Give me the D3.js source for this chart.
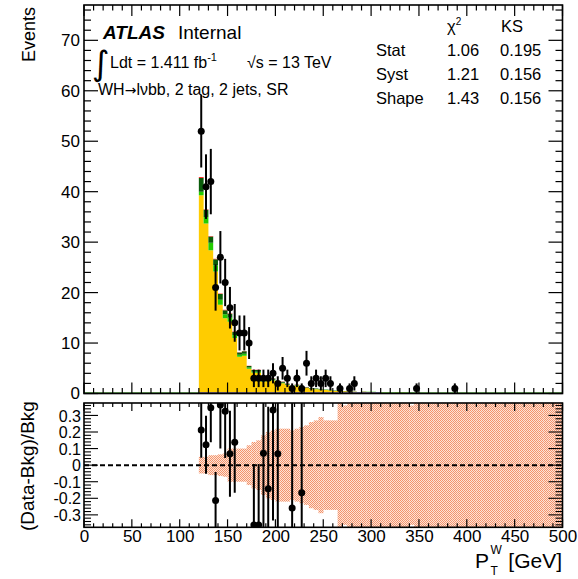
<!DOCTYPE html>
<html><head><meta charset="utf-8">
<script src="https://cdn.jsdelivr.net/npm/d3@7"></script>
<style>
body{margin:0;background:#fff}
text{font-family:"Liberation Sans",Arial,Helvetica,sans-serif;fill:#000}
</style>
</head><body>
<svg id="c" width="578" height="579"></svg>
<script>
// ---------------- data ----------------
const binWidth = 5;
const binLow = d3.range(120, 500, binWidth); // 76 bins, 120..500 GeV

// background components (events per bin)
const ttbar = [39.3,33.7,28.4,24.2,17.6,14.9,14.2,11.0,7.3,7.5,4.9,4.1,4.1,2.4,3.0,2.6,1.57,2.05,1.7,1.15,1.55,1.0,1.1,0.95,
  0.85,0.78,0.7,0.65,0.52,0.48,0.43,0.39,0.34,0.25,0.33,0.29,0.29,0.25,0.16,0.16,0.12,0.2,0.2,0.16,0.12,0.09,
  0.08,0.08,0.07,0.07,0.07,0.06,0.06,0.06,0.06,0.05,0.05,0.05,0.05,0.05,0.04,0.04,0.04,0.04,0.04,0.04,0.03,0.03,0.03,0.03,0.03,0.03,0.03,0.03,0.03,0.03];
const wcc = [0.7,1.3,1.5,1.2,1.0,0.8,0.8,0.6,0.4,0.4,0.25,0.2,0.2,0.15,0.2,0.15,0.1,0.1,0.1,0.05,0.1,0.05,0.05,0.05,
  0.05,0.04,0.04,0.04,0.03,0.03,0.03,0.03,0.03,0.03,0.04,0.04,0.04,0.03,0.02,0.02,0.02,0.03,0.03,0.02,0.02,0.02,
  0.02,0.02,0.02,0.02,0.02,0.02,0.02,0.02,0.01,0.01,0.01,0.01,0.01,0.01,0.01,0.01,0.01,0.01,0.01,0.01,0.01,0.01,0.01,0.01,0.01,0.01,0.01,0.01,0.01,0.01];
const wbb = [2.7,1.4,1.2,1.2,1.1,0.8,0.8,0.6,0.45,0.45,0.3,0.35,0.35,0.2,0.25,0.2,0.15,0.2,0.15,0.1,0.1,0.1,0.1,0.08,
  0.08,0.06,0.05,0.05,0.04,0.03,0.03,0.02,0.02,0.02,0.03,0.02,0.02,0.02,0.02,0.02,0.01,0.02,0.02,0.02,0.01,0.01,
  0.01,0.01,0.01,0.01,0.01,0.01,0.01,0.01,0.01,0.01,0.01,0.01,0.01,0.01,0.01,0.01,0.01,0.01,0.01,0.01,0.01,0.01,0.01,0.01,0.01,0.01,0.01,0.01,0.01,0.01];
const signal = [0.2,0.1,0.1,0.1,0.1,0.1,0.1,0.1,0.05,0.05,0.05,0.05,0.05,0.05,0.05,0.05,0.05,0.05,0.05,0.05,0.05,0.05,0.05,0.02,
  0.02,0.02,0.01,0.01,0.01,0.01,0.01,0.01,0.01,0,0,0,0,0,0,0,0,0,0,0,0,0,
  0,0,0,0,0,0,0,0,0,0,0,0,0,0,0,0,0,0,0,0,0,0,0,0,0,0,0,0,0,0];

// relative systematic uncertainty (half width of the ratio band), per bin
const bandErr = [0.05,0.05,0.06,0.06,0.065,0.07,0.10,0.10,0.10,0.10,0.12,0.14,0.15,0.18,0.20,0.21,0.22,0.22,0.22,0.21,0.22,0.23,0.24,0.26,
  0.27,0.29,0.27,0.27,0.27,0.6,0.36,0.6,0.6,0.6,0.6,0.6,0.6,0.6,0.6,0.6,0.6,0.6,0.6,0.6,0.36,0.6,
  0.6,0.6,0.6,0.6,0.6,0.6,0.6,0.6,0.6,0.6,0.6,0.6,0.6,0.6,0.6,0.6,0.6,0.6,0.6,0.6,0.6,0.6,0.6,0.6,0.6,0.6,0.6,0.6,0.6,0.6];

// data: bin centres and observed counts
const dataX = [122.5,127.5,132.5,137.5,142.5,147.5,152.5,157.5,162.5,167.5,172.5,177.5,182.5,187.5,192.5,197.5,202.5,207.5,212.5,217.5,222.5,227.5,232.5,237.5,242.5,247.5,252.5,257.5,267.5,277.5,282.5,347.5,387.5];
const dataY = [52,41,42,21,27,22,17,14,12,12,10,3,3,3,3,4,2,5,3,1,3,1,6,2,3,2,3,2,1,1,2,1,1];

// axis ticks
const xTicks = [0,50,100,150,200,250,300,350,400,450,500];
const yMainTicks = [0,10,20,30,40,50,60,70];
const yRatioTicks = [-0.3,-0.2,-0.1,0,0.1,0.2,0.3];
const baselineSegs = [[0,120],[120,310],[310,500]];

// stat table
const tableRows = ["Stat","Syst","Shape"];
const chi2Vals = ["1.06","1.21","1.43"];
const ksVals = ["0.195","0.156","0.156"];

// ---------------- drawing ----------------
const svg = d3.select("#c");
const L = 84, R = 562.5, mainTop = 5, mainBot = 393.5, rTop = 403, rBot = 527.3;
const x = d3.scaleLinear().domain([0,500]).range([L,R]);
const y = d3.scaleLinear().domain([0,77]).range([mainBot,mainTop]);
const yr = d3.scaleLinear().domain([-0.375,0.375]).range([rBot,rTop]);

const defs = svg.append("defs");
defs.append("clipPath").attr("id","mainPad").append("rect").attr("x",0).attr("y",0).attr("width",578).attr("height",399);
defs.append("clipPath").attr("id","ratioPad").append("rect").attr("x",0).attr("y",399).attr("width",578).attr("height",180);
defs.append("clipPath").attr("id","ratioFrame").append("rect").attr("x",L).attr("y",rTop).attr("width",R-L).attr("height",rBot-rTop);
const pat = defs.append("pattern").attr("id","hatch").attr("patternUnits","userSpaceOnUse").attr("width",2).attr("height",2);
pat.append("rect").attr("width",2).attr("height",2).attr("fill","#fde3d6");
pat.append("rect").attr("width",1).attr("height",1).attr("fill","#f3936c");
pat.append("rect").attr("x",1).attr("y",1).attr("width",1).attr("height",1).attr("fill","#f3936c");

const main = svg.append("g").attr("clip-path","url(#mainPad)");

// stacked background
const rows = binLow.map((lo,i)=>({lo, ttbar:ttbar[i], wcc:wcc[i], wbb:wbb[i], signal:signal[i]}));
const keys = ["ttbar","wcc","wbb","signal"];
const colors = {ttbar:"#ffcc00", wcc:"#22cc00", wbb:"#0a5c0a", signal:"#ff3333"};
const stack = d3.stack().keys(keys)(rows);
const area = d3.area().x(d=>x(d.x)).y0(d=>y(d.y0)).y1(d=>y(d.y1));
stack.forEach(layer=>{
  const pts = [];
  layer.forEach(s=>{ const lo=s.data.lo; pts.push({x:lo,y0:s[0],y1:s[1]}); pts.push({x:lo+binWidth,y0:s[0],y1:s[1]}); });
  main.append("path").attr("d",area(pts)).attr("fill",colors[layer.key]);
});

// coloured zero-content lines on the baseline
const segCol = ["#3f8f2f","#3a3aa0","#3f8f2f"];
baselineSegs.forEach((s,i)=>{
  main.append("line").attr("x1",x(s[0])).attr("x2",x(s[1])).attr("y1",mainBot-0.5).attr("y2",mainBot-0.5)
    .attr("stroke",segCol[i]).attr("stroke-width",1.5);
});

// data points
dataX.forEach((cx,i)=>{
  const n = dataY[i], e = Math.sqrt(n);
  main.append("line").attr("x1",x(cx)).attr("x2",x(cx)).attr("y1",y(n+e)).attr("y2",y(Math.max(0,n-e)))
    .attr("stroke","#000").attr("stroke-width",2);
  main.append("circle").attr("cx",x(cx)).attr("cy",y(n)).attr("r",3.5).attr("fill","#000");
});

// main frame & axes
function ticksH(g, scale, yPos, dir, majors, minorStep, majLen, minLen){
  const vals = d3.range(0,500+0.001,minorStep);
  vals.forEach(v=>{
    const isMaj = majors.includes(v);
    const len = isMaj?majLen:minLen;
    g.append("line").attr("x1",scale(v)).attr("x2",scale(v)).attr("y1",yPos).attr("y2",yPos+dir*len).attr("stroke","#000").attr("stroke-width",1.2);
  });
}
main.append("rect").attr("x",L).attr("y",mainTop).attr("width",R-L).attr("height",mainBot-mainTop)
  .attr("fill","none").attr("stroke","#000").attr("stroke-width",1.6);
ticksH(main, x, mainBot, -1, xTicks, 10, 11, 5.5);
ticksH(main, x, mainTop, 1, xTicks, 10, 11, 5.5);
const yMinor = d3.range(0,77,2);
yMinor.forEach(v=>{
  const isMaj = v%10===0, len = isMaj?14:7;
  main.append("line").attr("x1",L).attr("x2",L+len).attr("y1",y(v)).attr("y2",y(v)).attr("stroke","#000").attr("stroke-width",1.2);
  main.append("line").attr("x1",R).attr("x2",R-len).attr("y1",y(v)).attr("y2",y(v)).attr("stroke","#000").attr("stroke-width",1.2);
});
const yAx = main.append("g").attr("transform",`translate(${L},0)`)
  .call(d3.axisLeft(y).tickValues(yMainTicks).tickSize(0).tickPadding(4));
yAx.select(".domain").remove();
yAx.selectAll("text").attr("font-size",17).attr("font-family",null);

// ---------------- ratio panel ----------------
const ratio = svg.append("g");
const band = ratio.append("g").attr("clip-path","url(#ratioFrame)");
binLow.forEach((lo,i)=>{
  band.append("rect").attr("x",x(lo)).attr("width",x(lo+binWidth)-x(lo)+0.3)
    .attr("y",yr(bandErr[i])).attr("height",yr(-bandErr[i])-yr(bandErr[i]))
    .attr("fill","url(#hatch)");
});
band.append("line").attr("x1",L).attr("x2",R).attr("y1",yr(0)).attr("y2",yr(0))
  .attr("stroke","#000").attr("stroke-width",2).attr("stroke-dasharray","5,3");
// ratio points: (data - bkg)/bkg, drawn only inside the range
dataX.forEach((cx,i)=>{
  const bi = Math.floor((cx-120)/binWidth);
  const bkg = ttbar[bi]+wcc[bi]+wbb[bi]+signal[bi];
  const r = (dataY[i]-bkg)/bkg, e = Math.sqrt(dataY[i])/bkg;
  if (r>0.375 || r<-0.375) return;
  band.append("line").attr("x1",x(cx)).attr("x2",x(cx)).attr("y1",yr(r+e)).attr("y2",yr(r-e)).attr("stroke","#000").attr("stroke-width",2);
  band.append("circle").attr("cx",x(cx)).attr("cy",yr(r)).attr("r",3.5).attr("fill","#000");
});
ratio.append("rect").attr("x",L).attr("y",rTop).attr("width",R-L).attr("height",rBot-rTop)
  .attr("fill","none").attr("stroke","#000").attr("stroke-width",1.6);
ticksH(ratio, x, rBot, -1, xTicks, 10, 8, 4);
ticksH(ratio, x, rTop, 1, xTicks, 10, 8, 4);
d3.range(-36,37,2).forEach(k=>{
  const v = k/100, isMaj = k%10===0, len = isMaj?14:7;
  ratio.append("line").attr("x1",L).attr("x2",L+len).attr("y1",yr(v)).attr("y2",yr(v)).attr("stroke","#000").attr("stroke-width",1.1);
  ratio.append("line").attr("x1",R).attr("x2",R-len).attr("y1",yr(v)).attr("y2",yr(v)).attr("stroke","#000").attr("stroke-width",1.1);
});
const yrAx = ratio.append("g").attr("transform",`translate(${L},0)`)
  .call(d3.axisLeft(yr).tickValues(yRatioTicks).tickSize(0).tickPadding(3).tickFormat(d=>d===0?"0":d3.format(".1f")(d).replace("−","-")));
yrAx.select(".domain").remove();
yrAx.selectAll("text").attr("font-size",16).attr("font-family",null).attr("dy","0.35em");
const xAx = ratio.append("g").attr("transform",`translate(0,${rBot})`)
  .call(d3.axisBottom(x).tickValues(xTicks).tickSize(0).tickPadding(3));
xAx.select(".domain").remove();
xAx.selectAll("text").attr("font-size",17).attr("font-family",null);

// axis titles
svg.append("text").attr("transform","translate(35,7) rotate(-90)").attr("text-anchor","end")
  .attr("font-size",18).text("Events");
svg.append("g").attr("clip-path","url(#ratioPad)").append("text")
  .attr("transform","translate(34,531) rotate(-90)").attr("font-size",19).text("(Data-Bkg)/Bkg");
svg.append("text").attr("x",562).attr("y",568).attr("text-anchor","end").attr("font-size",21).text("[GeV]");
svg.append("text").attr("x",475).attr("y",568).attr("font-size",21).text("P");
svg.append("text").attr("x",490.5).attr("y",575).attr("font-size",12).text("T");
svg.append("text").attr("x",490.5).attr("y",554).attr("font-size",12).text("W");

// ATLAS labels
svg.append("text").attr("x",103).attr("y",39).attr("font-size",19).attr("font-weight","bold").attr("font-style","italic").text("ATLAS");
svg.append("text").attr("x",178).attr("y",39).attr("font-size",19).text("Internal");
svg.append("text").attr("x",92).attr("y",75).attr("font-size",34).style("font-family","DejaVu Sans").text("∫");
const lum = svg.append("text").attr("x",110).attr("y",68).attr("font-size",16);
lum.append("tspan").text("Ldt = 1.411 fb");
lum.append("tspan").attr("font-size",11).attr("dy",-7).text("-1");
svg.append("text").attr("x",247).attr("y",68).attr("font-size",16).text("√s = 13 TeV");
const wh = svg.append("text").attr("x",98).attr("y",95).attr("font-size",16);
wh.append("tspan").text("WH");
wh.append("tspan").style("font-family","DejaVu Sans").attr("font-size",14).text("→");
wh.append("tspan").text("lνbb, 2 tag, 2 jets, SR");

// stat table
const chi = svg.append("text").attr("x",447).attr("y",32).attr("font-size",16.5);
chi.append("tspan").text("χ");
chi.append("tspan").attr("font-size",10).attr("dy",-7).text("2");
svg.append("text").attr("x",501).attr("y",32).attr("font-size",16.5).text("KS");
const rowY = [56,80,104];
tableRows.forEach((t,i)=>{
  svg.append("text").attr("x",376).attr("y",rowY[i]).attr("font-size",16.5).text(t);
  svg.append("text").attr("x",447).attr("y",rowY[i]).attr("font-size",16.5).text(chi2Vals[i]);
  svg.append("text").attr("x",500).attr("y",rowY[i]).attr("font-size",16.5).text(ksVals[i]);
});
</script>
</body></html>
